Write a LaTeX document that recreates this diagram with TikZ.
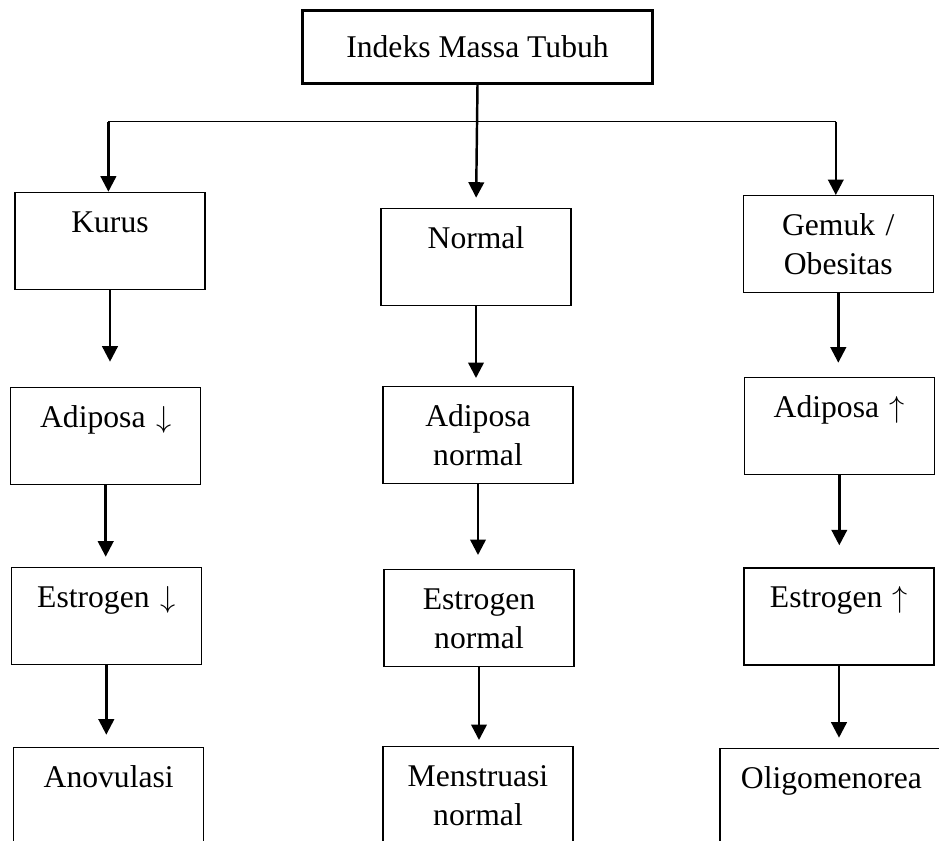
\documentclass[tikz,border=0pt]{standalone}
\usepackage{fontspec}
\setmainfont{Liberation Serif}
\usetikzlibrary{arrows.meta, calc}

\newcommand{\turun}{{\fontsize{17}{17}\selectfont$\downarrow$}}
\newcommand{\naik}{{\fontsize{17}{17}\selectfont$\uparrow$}}

\begin{document}
\begin{tikzpicture}[
    x=0.02cm, y=-0.02cm,
    box/.style={draw, line width=0.7pt, anchor=north, inner sep=0pt, text width=3.8cm, minimum width=3.8cm, align=center, text height=0.8cm, text depth=1.14cm, font=\fontsize{18}{22}\selectfont},
    topbox/.style={draw, line width=1.5pt, inner sep=0pt, minimum width=7cm, minimum height=1.46cm, font=\fontsize{18}{22}\selectfont},
    arr/.style={-{Triangle[length=3.1mm, width=3.1mm]}, line width=1.4pt}
]
  \useasboundingbox (0, 0) rectangle (939, 841);
  \clip (0, 0) rectangle (939, 841);

  \node[topbox] (imt) at (477.5, 46.7) {Indeks Massa Tubuh};

  \node[box] (kurus) at (110, 191.7) {Kurus};
  \node[box] (normal) at (476, 207.7) {Normal};
  \node[box] (gemuk) at (838.3, 195) {Gemuk /\\Obesitas};

  \node[box] (adkurus) at (105.7, 386.7) {Adiposa \turun};
  \node[box] (adnormal) at (478, 386) {Adiposa\\normal};
  \node[box] (adgemuk) at (839.3, 376.7) {Adiposa \naik};

  \node[box] (eskurus) at (106.3, 566.7) {Estrogen \turun};
  \node[box] (esnormal) at (479, 569) {Estrogen\\normal};
  \node[box] (esgemuk) at (839, 567.3) {Estrogen \naik};

  % bottom row runs off the page
  \node[box] (anov) at (108.7, 746.7) {Anovulasi};
  \node[box] (mens) at (478, 746) {Menstruasi\\normal};
  \node[box, text width=4.46cm, minimum width=4.46cm] (oligo) at (831.4, 747.7) {Oligomenorea};

  % branch from the top box
  \coordinate (bl) at (108.4, 121.7);
  \coordinate (br) at (835.8, 121.7);
  \draw[line width=0.9pt] (bl) -- (br);
  \draw[arr] (bl) -- (bl |- kurus.north);
  \draw[arr] (br) -- (br |- gemuk.north);
  \draw[arr, shorten >=0.2cm] (imt.south) -- (normal.north);

  \draw[arr, shorten >=0.5cm] (kurus.south) -- (kurus.south |- adkurus.north);
  \draw[arr, shorten >=0.2cm] (adkurus.south) -- (adkurus.south |- eskurus.north);
  \draw[arr, shorten >=0.24cm] (eskurus.south) -- (eskurus.south |- anov.north);

  \draw[arr, shorten >=0.16cm] (normal.south) -- (normal.south |- adnormal.north);
  \draw[arr, shorten >=0.28cm] (adnormal.south) -- (adnormal.south |- esnormal.north);
  \draw[arr, shorten >=0.12cm] (esnormal.south) -- (esnormal.south |- mens.north);

  \draw[arr, shorten >=0.28cm] (gemuk.south) -- (gemuk.south |- adgemuk.north);
  \draw[arr, shorten >=0.44cm] (adgemuk.south) -- (adgemuk.south |- esgemuk.north);
  \draw[arr, shorten >=0.2cm] (esgemuk.south) -- (esgemuk.south |- oligo.north);
\end{tikzpicture}
\end{document}
